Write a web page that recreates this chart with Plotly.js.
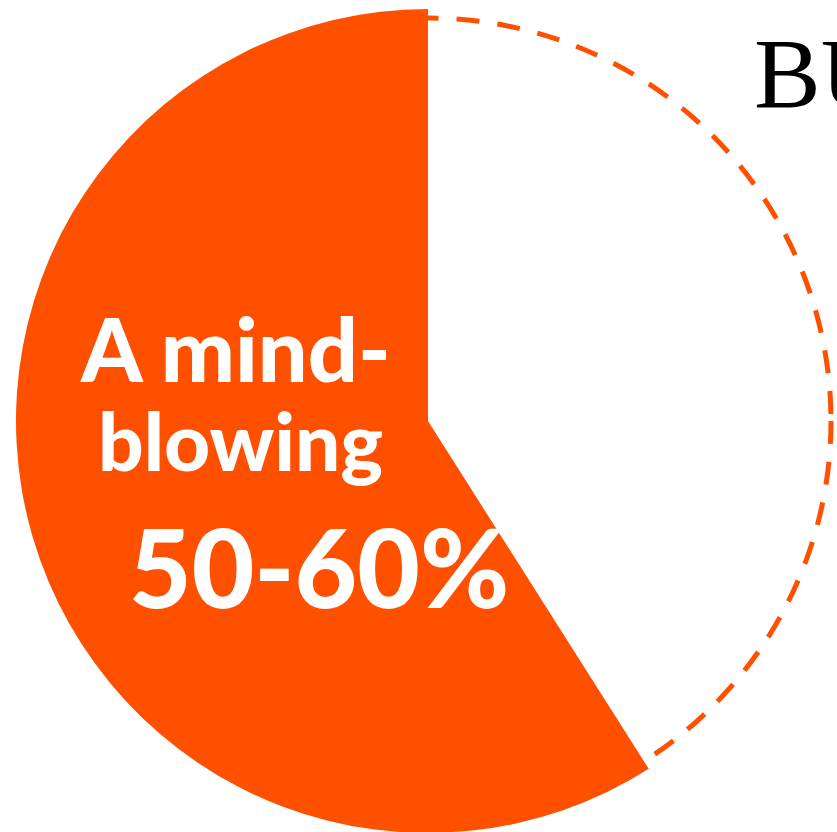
<!DOCTYPE html>
<html>
<head>
<meta charset="utf-8">
<script src="https://cdn.plot.ly/plotly-3.0.1.min.js"></script>
<style>
html,body{margin:0;padding:0;overflow:hidden;background:#fff;}
#chart{width:860px;height:840px;}
</style>
</head>
<body>
<div id="chart"></div>
<script>
// Data
const categories = ["Rest", "Mind-blowing share"];
const values = [41, 59];
const sliceColors = ["rgba(255,255,255,0)", "#FF5000"];
const labelLines = ["A mind-", "blowing", "50-60%"];
const sideTitle = "BU";

// Layout geometry (pixels)
const W = 860, H = 840;
const cx = 428, cy = 421, R = 412, Rdash = 403;
const px = x => x / W;
const py = y => 1 - y / H;

const trace = {
  type: "pie",
  labels: categories,
  values: values,
  sort: false,
  direction: "clockwise",
  rotation: 0,
  marker: {colors: sliceColors, line: {width: 0}},
  textinfo: "none",
  hoverinfo: "none",
  showlegend: false,
  domain: {x: [px(cx - R), px(cx + R)], y: [py(cy + R), py(cy - R)]}
};

const layout = {
  width: W, height: H,
  margin: {l: 0, r: 0, t: 0, b: 0},
  paper_bgcolor: "#ffffff",
  showlegend: false,
  shapes: [{
    type: "circle", xref: "paper", yref: "paper", layer: "below",
    x0: px(cx - Rdash), x1: px(cx + Rdash), y0: py(cy + Rdash), y1: py(cy - Rdash),
    line: {color: "#FF5000", width: 5, dash: "23px,18px"},
    fillcolor: "rgba(0,0,0,0)"
  }],
  annotations: [
    {text: labelLines[0], xref: "paper", yref: "paper", x: px(235), y: py(348),
     xanchor: "center", yanchor: "middle", showarrow: false,
     font: {family: "Lato", size: 88, weight: 900, color: "#ffffff"}},
    {text: labelLines[1], xref: "paper", yref: "paper", x: px(240), y: py(440),
     xanchor: "center", yanchor: "middle", showarrow: false,
     font: {family: "Lato", size: 80, weight: 900, color: "#ffffff"}},
    {text: labelLines[2], xref: "paper", yref: "paper", x: px(319), y: py(566),
     xanchor: "center", yanchor: "middle", showarrow: false,
     font: {family: "Lato", size: 108, weight: 900, color: "#ffffff"}},
    {text: sideTitle, xref: "paper", yref: "paper", x: px(752), y: py(73),
     xanchor: "left", yanchor: "middle", showarrow: false,
     font: {family: "Liberation Serif", size: 100, color: "#000000"}}
  ]
};

Plotly.newPlot("chart", [trace], layout, {staticPlot: true, displayModeBar: false});
</script>
</body>
</html>
